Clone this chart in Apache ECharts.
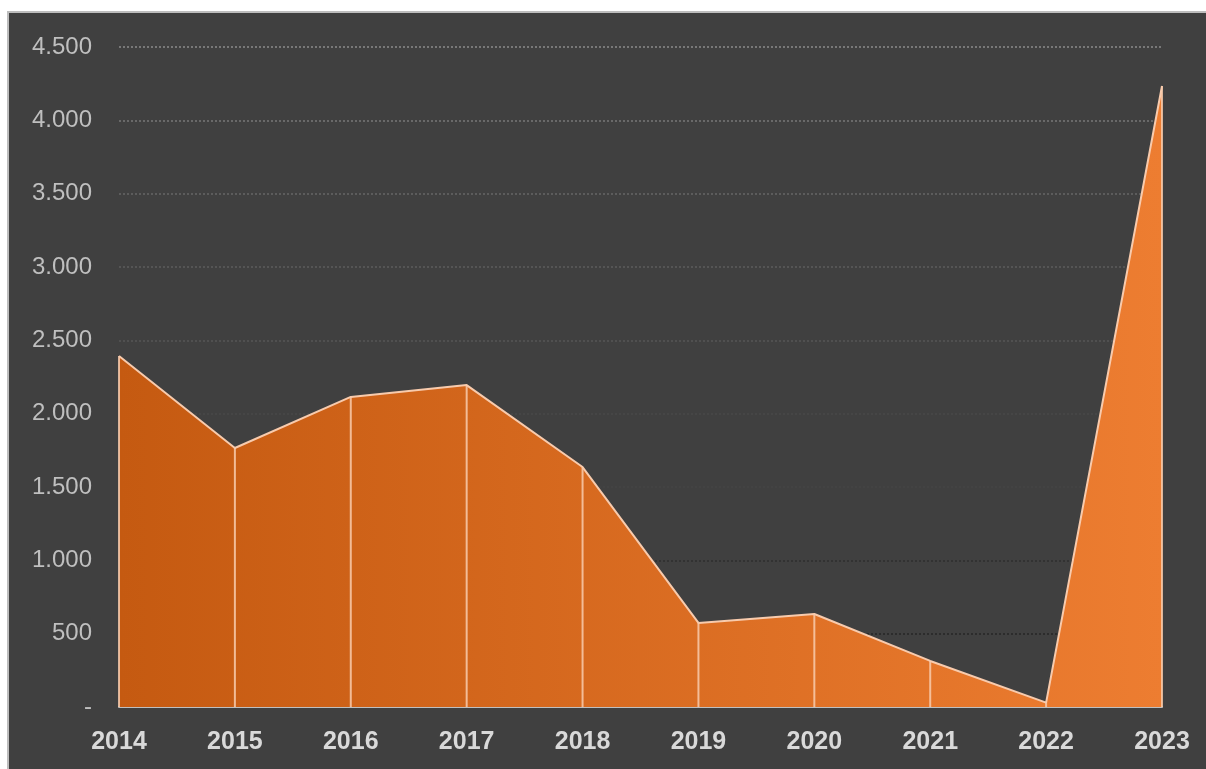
<!DOCTYPE html>
<html>
<head>
<meta charset="utf-8">
<script src="https://cdn.jsdelivr.net/npm/echarts@6/dist/echarts.min.js"></script>
<style>
  html, body { margin: 0; padding: 0; background: #ffffff; width: 1206px; height: 769px; overflow: hidden; }
  #panel { position: absolute; left: 7px; top: 11px; width: 1199px; height: 758px; background: #404040; border-top: 2px solid #bdbdbd; border-left: 2px solid #bdbdbd; box-sizing: border-box; }
  #chart { position: absolute; left: 0; top: 0; width: 1206px; height: 769px; }
</style>
</head>
<body>
<div id="panel"></div>
<div id="chart"></div>
<script>
const categories = ['2014','2015','2016','2017','2018','2019','2020','2021','2022','2023'];
const values = [2393, 1766, 2114, 2195, 1636, 573, 634, 314, 30, 4234];
const yTicks = [0, 500, 1000, 1500, 2000, 2500, 3000, 3500, 4000, 4500];

const chart = echarts.init(document.getElementById('chart'), null, { renderer: 'canvas' });
const fontFamily = '"Liberation Sans", Arial, sans-serif';

chart.setOption({
  backgroundColor: 'transparent',
  animation: false,
  grid: { left: 119, right: 44, top: 47, bottom: 62, containLabel: false },
  xAxis: {
    type: 'category',
    data: categories,
    boundaryGap: false,
    axisLine: { show: true, lineStyle: { color: '#bfbfbf', width: 2 } },
    axisTick: { show: false },
    axisLabel: { color: '#d9d9d9', fontSize: 25, fontWeight: 'bold', fontFamily: fontFamily, margin: 23 },
    splitLine: { show: false }
  },
  yAxis: {
    type: 'value',
    min: yTicks[0],
    max: yTicks[yTicks.length - 1],
    interval: 500,
    axisLine: { show: false },
    axisTick: { show: false },
    axisLabel: {
      color: '#bfbfbf', fontSize: 24, fontFamily: fontFamily, margin: 27,
      formatter: function (v) {
        if (v === 0) return '-';
        return String(v).replace(/\B(?=(\d{3})+(?!\d))/g, '.');
      }
    },
    splitLine: {
      show: true,
      lineStyle: {
        type: [2, 2], width: 1.5,
        color: ['#404040', '#262626', '#2e2e2e', '#444444', '#484848', '#555555', '#5c5c5c', '#666666', '#777777', '#8a8a8a']
      }
    }
  },
  series: [
    {
      type: 'line',
      data: values,
      symbol: 'none',
      z: 2,
      lineStyle: { color: '#f8cbad', width: 2 },
      areaStyle: {
        opacity: 1,
        color: new echarts.graphic.LinearGradient(0, 0, 1, 0, [
          { offset: 0, color: '#c55a11' },
          { offset: 1, color: '#ed7d31' }
        ])
      }
    },
    {
      type: 'bar',
      data: values,
      barWidth: 2,
      z: 3,
      itemStyle: { color: 'rgba(248, 203, 173, 0.85)' },
      silent: true
    }
  ]
});
</script>
</body>
</html>
